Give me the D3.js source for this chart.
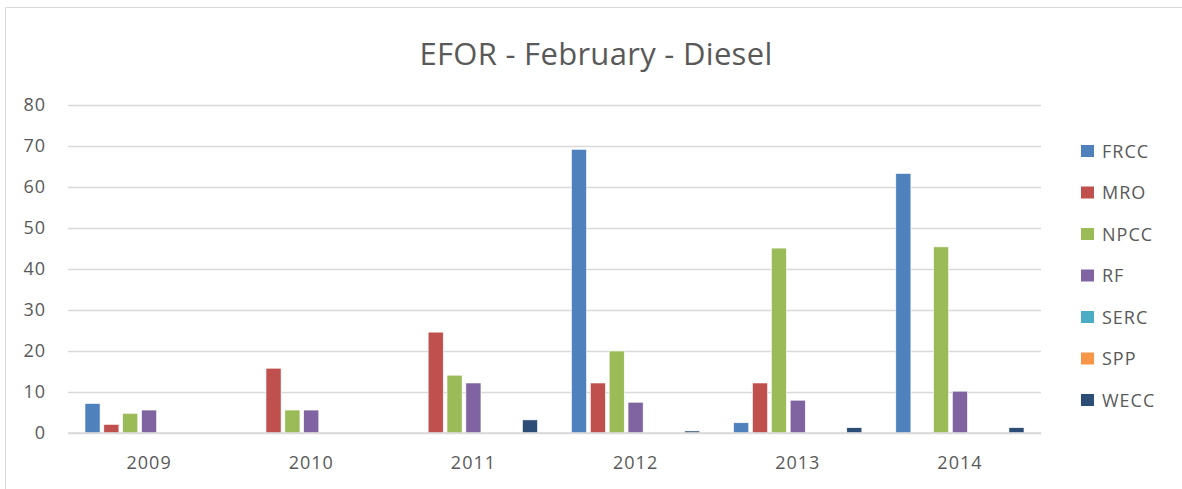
<!DOCTYPE html>
<html>
<head>
<meta charset="utf-8">
<script src="https://cdn.jsdelivr.net/npm/d3@7"></script>
<style>
  body { margin: 0; background: #fff; }
  svg text { font-family: "Open Sans", "Noto Sans", sans-serif; fill: #595959; }
</style>
</head>
<body>
<svg id="canvas" width="1182" height="489"></svg>
<script>
var years = ["2009", "2010", "2011", "2012", "2013", "2014"];
var regions = ["FRCC", "MRO", "NPCC", "RF", "SERC", "SPP", "WECC"];
var colors = ["#4f81bd", "#c0504d", "#9bbb59", "#8064a2", "#4bacc6", "#f79646", "#2c4d75"];
var yTicks = [0, 10, 20, 30, 40, 50, 60, 70, 80];

// one array per region, values per year
var FRCC = [7.2, 0, 0, 69.2, 2.5, 63.3];
var MRO  = [2.1, 15.8, 24.6, 12.2, 12.2, 0];
var NPCC = [4.8, 5.6, 14.1, 20.0, 45.1, 45.4];
var RF   = [5.6, 5.6, 12.2, 7.5, 8.0, 10.2];
var SERC = [0, 0, 0, 0, 0, 0];
var SPP  = [0, 0, 0, 0, 0, 0];
var WECC = [0, 0, 3.2, 0.5, 1.3, 1.3];
var series = [FRCC, MRO, NPCC, RF, SERC, SPP, WECC];

var margins = { left: 68, right: 141, top: 105, bottom: 56 };
var width = 1182, height = 489;
var canvas = d3.select("#canvas");

// outer frame (top and left edges visible)
canvas.append("line").attr("x1", 5.5).attr("x2", 1182).attr("y1", 7.5).attr("y2", 7.5)
  .attr("stroke", "#d9d9d9").attr("stroke-width", 1);
canvas.append("line").attr("x1", 5.5).attr("x2", 5.5).attr("y1", 7.5).attr("y2", 489)
  .attr("stroke", "#d9d9d9").attr("stroke-width", 1);

// title
canvas.append("text")
  .attr("x", 596).attr("y", 65)
  .attr("text-anchor", "middle")
  .style("font-size", "31px")
  .style("letter-spacing", "0.3px")
  .text("EFOR - February - Diesel");

var y = d3.scaleLinear().domain([0, 80]).range([height - margins.bottom, margins.top]);
var x = d3.scaleBand().domain(years).range([margins.left, width - margins.right]);
var xInner = d3.scaleBand().domain(regions).range([0, x.bandwidth()]).paddingInner(0.2).paddingOuter(0.9);

// gridlines + y labels
var yAxis = canvas.append("g")
  .attr("transform", "translate(" + margins.left + ",0)")
  .call(d3.axisLeft(y).tickValues(yTicks).tickSize(-(width - margins.left - margins.right)).tickPadding(22));
yAxis.select(".domain").remove();
yAxis.selectAll("line").attr("stroke", "#d9d9d9").attr("stroke-width", 1.5);
yAxis.selectAll("text").style("font-size", "18px").style("letter-spacing", "1px").attr("fill", "#595959");

// bars
var groups = canvas.append("g").selectAll("g")
  .data(series)
  .enter()
  .append("g")
  .attr("fill", function(d, i) { return colors[i]; });

groups.selectAll("rect")
  .data(function(d, i) { return d.map(function(v, j) { return { region: regions[i], year: years[j], value: v }; }); })
  .enter()
  .append("rect")
  .attr("x", function(d) { return x(d.year) + xInner(d.region); })
  .attr("width", xInner.bandwidth())
  .attr("y", function(d) { return y(d.value); })
  .attr("height", function(d) { return y(0) - y(d.value); })
  .attr("stroke", "#fff")
  .attr("stroke-width", 0.6);

// baseline
canvas.append("line")
  .attr("x1", margins.left).attr("x2", width - margins.right)
  .attr("y1", y(0)).attr("y2", y(0))
  .attr("stroke", "#d9d9d9").attr("stroke-width", 1.5);

// x labels
var xAxis = canvas.append("g")
  .attr("transform", "translate(0," + y(0) + ")")
  .call(d3.axisBottom(x).tickSize(0).tickPadding(23));
xAxis.select(".domain").remove();
xAxis.selectAll("text").style("font-size", "18px").style("letter-spacing", "1px").attr("fill", "#595959");

// legend
var legend = canvas.append("g").selectAll("g")
  .data(regions)
  .enter()
  .append("g")
  .attr("transform", function(d, i) { return "translate(1081," + (151 + i * 41.5) + ")"; });
legend.append("rect")
  .attr("x", 0).attr("y", -6).attr("width", 13).attr("height", 12)
  .attr("fill", function(d, i) { return colors[i]; });
legend.append("text")
  .attr("x", 21).attr("y", 6.5)
  .style("font-size", "18px")
  .style("letter-spacing", "1px")
  .text(function(d) { return d; });
</script>
</body>
</html>
